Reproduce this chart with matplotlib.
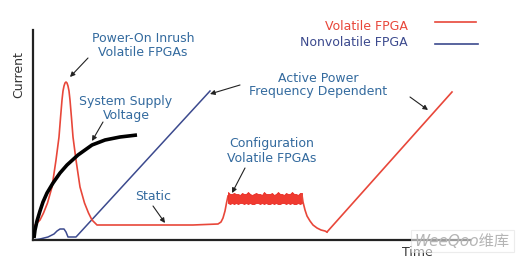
import matplotlib
matplotlib.use("Agg")
import matplotlib.pyplot as plt

plt.rcParams['font.family'] = ['DejaVu Sans', 'Noto Sans CJK SC']

# all values, x = time, y = current (arbitrary units)
volatile_t = [1, 2, 7, 10.5, 14.5, 19, 23, 26, 27.5, 29, 30, 31, 32, 33, 34, 35, 36, 37, 38.5, 40,
              43, 47, 51.5, 55.5, 59, 64, 80, 120, 160, 185, 188, 190, 192, 193.5, 195]
volatile_i = [13, 15, 20, 27, 37, 53, 80, 103, 122, 140, 149, 154, 157, 158, 157, 154, 149, 140,
              122, 103, 80, 53, 37, 27, 20, 15, 15, 15, 15, 16, 18, 22, 29, 37, 44]

# configuration burst: noisy band, upper and lower edge
config_t = [195, 197, 199, 201, 203, 205, 207, 209, 211, 213, 215, 217, 219, 221, 223, 225, 227, 229,
            231, 233, 235, 237, 239, 241, 243, 245, 247, 249, 251, 253, 255, 257, 259, 261, 263, 265,
            267, 269]
config_top = [48, 46, 46, 47, 46, 46, 45, 47, 46, 46, 48, 46, 45, 46, 47, 46, 46, 45, 48, 46,
              46, 46, 47, 45, 46, 48, 46, 46, 45, 47, 46, 46, 48, 46, 46, 45, 47, 47]
config_low = [37, 36, 37, 36, 37, 36, 37, 37, 36, 37, 36, 37, 36, 36, 37, 37, 36, 37, 36, 37,
              36, 36, 37, 36, 37, 36, 36, 37, 37, 36, 37, 36, 37, 36, 36, 37, 36, 37]

decay_t = [269, 270, 272, 274, 277, 280, 284, 288, 292, 294]
decay_i = [45, 38, 30, 24, 19, 15, 12, 10, 9, 8]

ramp_t = [294, 419]
ramp_i = [8, 148]

nonvol_t = [0, 7, 15, 21, 24, 27, 31, 33, 35, 43, 177]
nonvol_i = [0, 1, 3, 6, 9, 11, 11, 8, 3, 3, 149]

supply_t = [1, 2, 4, 7, 10, 14, 20, 27, 34, 45, 59, 72, 87, 104]
supply_v = [2, 10, 19, 29, 38, 47, 57, 67, 75, 85, 95, 100, 103, 105]

red = '#e8473a'
blue = '#3c4a8e'
txt = '#336a9e'

fig = plt.figure(figsize=(5.22, 2.59), dpi=100)
ax = fig.add_axes([33 / 522, 19 / 259, 437 / 522, 210 / 259])
ax.set_xlim(0, 437)
ax.set_ylim(0, 210)
for s in ['top', 'right']:
    ax.spines[s].set_visible(False)
for s in ['left', 'bottom']:
    ax.spines[s].set_linewidth(1.6)
    ax.spines[s].set_color('#222222')
ax.set_xticks([])
ax.set_yticks([])

ax.plot(supply_t, supply_v, color='black', lw=2.6, solid_capstyle='butt', zorder=3)
ax.plot(nonvol_t, nonvol_i, color=blue, lw=1.1, zorder=2)
ax.plot(volatile_t, volatile_i, color=red, lw=1.2, zorder=2)
ax.fill_between(config_t, config_low, config_top, color='#f03a30', lw=0.6, ec='#e82a22', zorder=2)
ax.plot(decay_t, decay_i, color=red, lw=1.2, zorder=2)
ax.plot(ramp_t, ramp_i, color=red, lw=1.2, zorder=2)

fs = 9
ax.text(110, 194, 'Power-On Inrush\nVolatile FPGAs', color=txt, fontsize=fs, ha='center', va='center',
        linespacing=1.1)
ax.text(93, 131, 'System Supply\nVoltage', color=txt, fontsize=fs, ha='center', va='center',
        linespacing=1.1)
ax.text(285, 155, 'Active Power\nFrequency Dependent', color=txt, fontsize=fs, ha='center', va='center',
        linespacing=1.1)
ax.text(239, 89, 'Configuration\nVolatile FPGAs', color=txt, fontsize=fs, ha='center', va='center',
        linespacing=1.1)
ax.text(120, 43, 'Static', color=txt, fontsize=fs, ha='center', va='center')
ax.text(384, -13, 'Time', color='#333333', fontsize=fs, ha='center', va='center', clip_on=False)
ax.text(-14, 165, 'Current', color='#333333', fontsize=fs, ha='center', va='center', rotation=90,
        clip_on=False)

# legend
ax.text(375, 213, 'Volatile FPGA', color=red, fontsize=fs, ha='right', va='center', clip_on=False)
ax.text(375, 197, 'Nonvolatile FPGA', color=blue, fontsize=fs, ha='right', va='center', clip_on=False)
ax.plot([402, 443], [218, 218], color=red, lw=1.2, clip_on=False)
ax.plot([402, 445], [196, 196], color=blue, lw=1.2, clip_on=False)

# arrows
arrows = [((55, 182), (37, 163)),
          ((70, 118), (59, 99)),
          ((120, 34), (132, 17)),
          ((207, 155), (177, 146)),
          ((377, 143), (395, 130)),
          ((212, 72), (199, 47))]
for start, end in arrows:
    ax.annotate('', xy=end, xytext=start, annotation_clip=False,
                arrowprops=dict(arrowstyle='-|>', color='#222222', lw=0.8, mutation_scale=7,
                                shrinkA=0, shrinkB=0))

# watermark
ax.text(477, -1, 'WeeQoo维库', color='#b5b5b5', fontsize=11, ha='right', va='center', style='italic',
        clip_on=False,
        bbox=dict(boxstyle='square,pad=0.25', fc='white', ec='#dddddd', lw=0.8, alpha=0.55))

fig.savefig('out.png', dpi=100)
